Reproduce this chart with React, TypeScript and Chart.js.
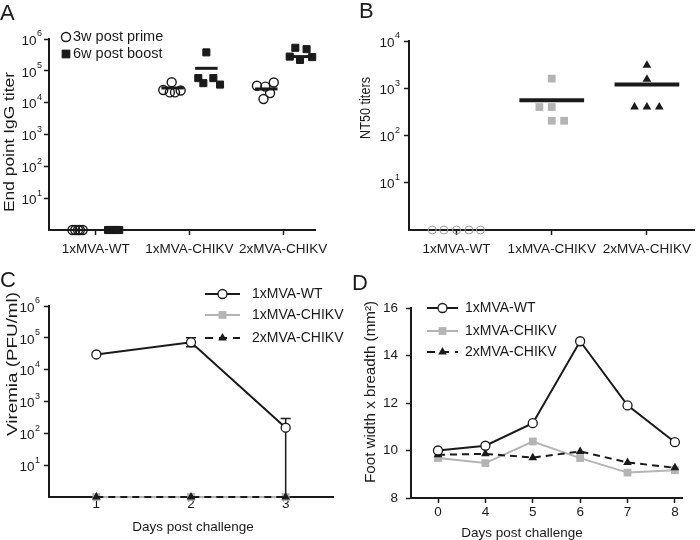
import React, { useEffect, useRef } from 'react';
import { Chart, registerables } from 'chart.js';

Chart.register(...registerables);

const FONT = "'Liberation Sans', Arial, Helvetica, sans-serif";
const INK = '#1a1a1a';
const GREY = '#b4b4b4';
const PALE = '#9a9a9a';

// ---------------- Panel A : End point IgG titer ----------------
const groupsA = ['1xMVA-WT', '1xMVA-CHIKV', '2xMVA-CHIKV'];
const legendA = ['3w post prime', '6w post boost'];
const yTicksA = [1e1, 1e2, 1e3, 1e4, 1e5, 1e6];
const primeXA = [0.75, 0.78, 0.81, 0.83, 0.86, 1.72, 1.81, 1.79, 1.845, 1.906, 2.72, 2.81, 2.9, 2.86, 2.79];
const primeYA = [1, 1, 1, 1, 1, 2.5e4, 4.4e4, 2.1e4, 2.1e4, 2.4e4, 3.4e4, 3.2e4, 4.3e4, 2.0e4, 1.3e4];
const boostXA = [1.13, 1.16, 1.19, 1.22, 1.25, 2.094, 2.148, 2.18, 2.255, 2.326, 3.07, 3.13, 3.18, 3.25, 3.31];
const boostYA = [1, 1, 1, 1, 1, 5.9e4, 4.1e4, 3.8e5, 5.9e4, 3.7e4, 2.8e5, 5.3e5, 2.2e5, 4.8e5, 2.7e5];
const primeMeanA = [null, 2.9e4, 2.7e4];
const boostMeanA = [null, 1.2e5, 2.8e5];

// ---------------- Panel B : NT50 titers ----------------
const groupsB = ['1xMVA-WT', '1xMVA-CHIKV', '2xMVA-CHIKV'];
const yTicksB = [1e1, 1e2, 1e3, 1e4];
const wtXB = [0.744, 0.866, 1.0, 1.13, 1.25];
const wtYB = [1, 1, 1, 1, 1];
const c1XB = [1.87, 2.0, 2.0, 2.0, 2.13];
const c1YB = [400, 1600, 400, 205, 205];
const c2XB = [2.87, 3.0, 3.0, 3.0, 3.13];
const c2YB = [400, 3060, 1550, 400, 400];
const meanB = [null, 560, 1200];

// ---------------- Panel C : Viremia ----------------
const seriesNames = ['1xMVA-WT', '1xMVA-CHIKV', '2xMVA-CHIKV'];
const daysC = [1, 2, 3];
const yTicksC = [1e1, 1e2, 1e3, 1e4, 1e5, 1e6];
const wtC = [3.0e4, 7.2e4, 150];
const wtLoC = [null, 5.2e4, 1];
const wtHiC = [null, 1.0e5, 290];
const c1C = [1, 1, 1];
const c2C = [1, 1, 1];

// ---------------- Panel D : Foot swelling ----------------
const daysD = ['0', '4', '5', '6', '7', '8'];
const wtD = [10.0, 10.2, 11.15, 14.6, 11.9, 10.35];
const c1D = [9.68, 9.47, 10.38, 9.68, 9.07, 9.17];
const c2D = [9.82, 9.86, 9.7, 9.96, 9.5, 9.27];

// ---------------- helpers ----------------
const tickGrid = {
  display: true,
  drawOnChartArea: false,
  drawTicks: true,
  tickLength: 5,
  tickColor: INK,
  tickWidth: 1.5,
  color: INK,
};
const axisBorder = { display: true, color: INK, width: 2 };
const TICK_FONT = { family: FONT, size: 13.5 };

function xAxis(min: number, max: number, values: number[], labels: string[], height: number, pad: number, ticksOn = true) {
  return {
    type: 'linear',
    min,
    max,
    afterBuildTicks: (s: any) => {
      s.ticks = values.map((v) => ({ value: v }));
    },
    afterFit: (s: any) => {
      s.height = height;
    },
    ticks: {
      autoSkip: false,
      maxRotation: 0,
      padding: pad,
      color: INK,
      font: TICK_FONT,
      callback: (_v: any, i: number) => labels[i],
    },
    grid: { ...tickGrid, drawTicks: ticksOn },
    border: axisBorder,
  };
}

function logAxis(max: number, ticks: number[], width: number) {
  return {
    type: 'logarithmic',
    min: 1,
    max,
    afterBuildTicks: (s: any) => {
      s.ticks = ticks.map((v) => ({ value: v }));
    },
    afterFit: (s: any) => {
      s.width = width;
    },
    ticks: { autoSkip: false, callback: () => '' },
    grid: tickGrid,
    border: axisBorder,
  };
}

const common: any = {
  responsive: false,
  animation: false,
  devicePixelRatio: 1,
  events: [],
  plugins: { legend: { display: false }, tooltip: { enabled: false } },
};

function txt(ctx: CanvasRenderingContext2D, s: string, x: number, y: number, size: number, align: CanvasTextAlign = 'left', baseline: CanvasTextBaseline = 'middle') {
  ctx.save();
  ctx.fillStyle = INK;
  ctx.font = `${size}px ${FONT}`;
  ctx.textAlign = align;
  ctx.textBaseline = baseline;
  ctx.fillText(s, x, y);
  ctx.restore();
}

// vertical title fitted to a given length along the axis
function vtxt(ctx: CanvasRenderingContext2D, s: string, x: number, y: number, size: number, length: number) {
  ctx.save();
  ctx.translate(x, y);
  ctx.rotate(-Math.PI / 2);
  ctx.font = `${size}px ${FONT}`;
  const w = ctx.measureText(s).width;
  ctx.scale(length / w, 1);
  ctx.fillStyle = INK;
  ctx.textAlign = 'center';
  ctx.textBaseline = 'middle';
  ctx.fillText(s, 0, 0);
  ctx.restore();
}

function powLabels(ctx: CanvasRenderingContext2D, scale: any, ticks: number[], gap: number) {
  const x0 = scale.right - gap;
  ctx.save();
  ctx.fillStyle = INK;
  ctx.textBaseline = 'middle';
  for (const v of ticks) {
    const y = scale.getPixelForValue(v);
    const e = String(Math.round(Math.log10(v)));
    ctx.font = `9px ${FONT}`;
    const ew = ctx.measureText(e).width;
    ctx.textAlign = 'left';
    ctx.fillText(e, x0 - ew, y - 5);
    ctx.font = `13.5px ${FONT}`;
    ctx.textAlign = 'right';
    ctx.fillText('10', x0 - ew - 0.5, y + 2);
  }
  ctx.restore();
}

function marker(ctx: CanvasRenderingContext2D, style: string, x: number, y: number, r: number, fill: string, stroke: string, lw: number) {
  ctx.save();
  ctx.beginPath();
  if (style === 'circle') {
    ctx.arc(x, y, r, 0, Math.PI * 2);
  } else if (style === 'rect') {
    const h = r * Math.SQRT1_2;
    ctx.rect(x - h, y - h, 2 * h, 2 * h);
  } else {
    ctx.moveTo(x, y - r);
    ctx.lineTo(x + r * 0.866, y + r / 2);
    ctx.lineTo(x - r * 0.866, y + r / 2);
    ctx.closePath();
  }
  ctx.fillStyle = fill;
  ctx.fill();
  if (lw > 0) {
    ctx.lineWidth = lw;
    ctx.strokeStyle = stroke;
    ctx.stroke();
  }
  ctx.restore();
}

const lineSeries = [
  { color: INK, dash: [] as number[], style: 'circle', r: 4.5, fill: '#ffffff', bw: 1.3 },
  { color: GREY, dash: [] as number[], style: 'rect', r: 5.5, fill: GREY, bw: 0 },
  { color: INK, dash: [7, 5], style: 'triangle', r: 5, fill: INK, bw: 0 },
];

function lineDataset(i: number, pts: { x: number; y: number }[]) {
  const s = lineSeries[i];
  return {
    label: seriesNames[i],
    data: pts,
    showLine: true,
    borderColor: s.color,
    borderWidth: 2,
    borderDash: s.dash,
    pointStyle: s.style,
    pointRadius: s.r,
    pointBackgroundColor: s.fill,
    pointBorderColor: s.bw > 0 ? INK : s.fill,
    pointBorderWidth: s.bw,
    clip: false,
  };
}

function drawLineLegend(ctx: CanvasRenderingContext2D, x0: number, x1: number, tx: number, ys: number[]) {
  seriesNames.forEach((name, i) => {
    const s = lineSeries[i];
    const y = ys[i];
    ctx.save();
    ctx.strokeStyle = s.color;
    ctx.lineWidth = 2;
    ctx.setLineDash(s.dash.length ? [8, 6] : []);
    ctx.beginPath();
    ctx.moveTo(x0, y);
    ctx.lineTo(x1, y);
    ctx.stroke();
    ctx.restore();
    marker(ctx, s.style, (x0 + x1) / 2, y, s.r, s.fill, INK, s.bw);
    txt(ctx, name, tx, y, 14);
  });
}

// ---------------- chart factories ----------------
function makeA(): any {
  const datasets: any[] = [
    {
      label: legendA[1],
      data: boostXA.map((x, i) => ({ x, y: boostYA[i] })),
      pointStyle: 'rect',
      pointRadius: 5,
      backgroundColor: INK,
      borderColor: INK,
      borderWidth: 1,
      clip: false,
    },
    {
      label: legendA[0],
      data: primeXA.map((x, i) => ({ x, y: primeYA[i] })),
      pointStyle: 'circle',
      pointRadius: 4.5,
      backgroundColor: 'rgba(255,255,255,0)',
      borderColor: INK,
      borderWidth: 1.4,
      clip: false,
    },
  ];
  groupsA.forEach((_, g) => {
    const pairs: [(number | null)[], number][] = [
      [primeMeanA, -0.18],
      [boostMeanA, 0.18],
    ];
    pairs.forEach(([arr, off]) => {
      const m = arr[g];
      if (m == null) return;
      const c = g + 1 + off;
      datasets.push({
        label: 'mean',
        data: [
          { x: c - 0.12, y: m },
          { x: c + 0.12, y: m },
        ],
        showLine: true,
        borderColor: INK,
        borderWidth: 3,
        pointRadius: 0,
        clip: false,
      });
    });
  });
  return {
    type: 'scatter',
    data: { datasets },
    options: {
      ...common,
      layout: { padding: { left: 0, top: 39, right: 35, bottom: 0 } },
      scales: { x: xAxis(0.5, 3.34, [1, 2, 3], groupsA, 40, 6), y: logAxis(1e6, yTicksA, 49) },
    },
    plugins: [
      {
        id: 'decorA',
        afterDraw(chart: any) {
          const ctx = chart.ctx;
          txt(ctx, 'A', 0, 20, 22, 'left', 'alphabetic');
          vtxt(ctx, 'End point IgG titer', 10, 142, 14, 140);
          powLabels(ctx, chart.scales.y, yTicksA, 7);
          marker(ctx, 'circle', 66, 37, 4.5, 'rgba(0,0,0,0)', INK, 1.4);
          txt(ctx, legendA[0], 73, 37, 14.5);
          marker(ctx, 'rect', 66, 54, 5.5, INK, INK, 1);
          txt(ctx, legendA[1], 73, 54, 14.5);
        },
      },
    ],
  };
}

function makeB(): any {
  const datasets: any[] = [
    {
      label: groupsB[2],
      data: c2XB.map((x, i) => ({ x, y: c2YB[i] })),
      pointStyle: 'triangle',
      pointRadius: 5,
      backgroundColor: INK,
      borderColor: INK,
      borderWidth: 0,
      clip: false,
    },
    {
      label: groupsB[1],
      data: c1XB.map((x, i) => ({ x, y: c1YB[i] })),
      pointStyle: 'rect',
      pointRadius: 5.5,
      backgroundColor: GREY,
      borderColor: GREY,
      borderWidth: 0,
      clip: false,
    },
    {
      label: groupsB[0],
      data: wtXB.map((x, i) => ({ x, y: wtYB[i] })),
      pointStyle: 'circle',
      pointRadius: 4,
      backgroundColor: 'rgba(255,255,255,0)',
      borderColor: PALE,
      borderWidth: 1,
      clip: false,
    },
  ];
  meanB.forEach((m, g) => {
    if (m == null) return;
    const c = g + 1;
    datasets.unshift({
      label: 'mean',
      data: [
        { x: c - 0.34, y: m },
        { x: c + 0.34, y: m },
      ],
      showLine: true,
      borderColor: INK,
      borderWidth: 4,
      pointRadius: 0,
      clip: false,
    });
  });
  return {
    type: 'scatter',
    data: { datasets },
    options: {
      ...common,
      layout: { padding: { left: 0, top: 41, right: 5, bottom: 0 } },
      scales: { x: xAxis(0.5, 3.5, [1, 2, 3], groupsB, 40, 6), y: logAxis(1e4, yTicksB, 59) },
    },
    plugins: [
      {
        id: 'decorB',
        afterDraw(chart: any) {
          const ctx = chart.ctx;
          txt(ctx, 'B', 9, 18, 22, 'left', 'alphabetic');
          vtxt(ctx, 'NT50 titers', 16, 108, 14, 62);
          powLabels(ctx, chart.scales.y, yTicksB, 9);
        },
      },
    ],
  };
}

function makeC(): any {
  const datasets = [
    lineDataset(0, daysC.map((d, i) => ({ x: d, y: wtC[i] }))),
    lineDataset(2, daysC.map((d, i) => ({ x: d, y: c2C[i] }))),
    lineDataset(1, daysC.map((d, i) => ({ x: d, y: c1C[i] }))),
  ];
  return {
    type: 'scatter',
    data: { datasets },
    options: {
      ...common,
      layout: { padding: { left: 0, top: 36, right: 17, bottom: 0 } },
      scales: {
        x: xAxis(0.5, 3.5, daysC, daysC.map(String), 43, -1, false),
        y: logAxis(1e6, yTicksC, 49),
      },
    },
    plugins: [
      {
        id: 'decorC',
        beforeDatasetsDraw(chart: any) {
          const { ctx } = chart;
          const x = chart.scales.x;
          const y = chart.scales.y;
          ctx.save();
          ctx.strokeStyle = INK;
          ctx.lineWidth = 1.5;
          daysC.forEach((d, i) => {
            const lo = wtLoC[i];
            const hi = wtHiC[i];
            if (lo == null || hi == null) return;
            const px = x.getPixelForValue(d);
            const pl = y.getPixelForValue(lo);
            const ph = y.getPixelForValue(hi);
            ctx.beginPath();
            ctx.moveTo(px, pl);
            ctx.lineTo(px, ph);
            ctx.moveTo(px - 5, ph);
            ctx.lineTo(px + 5, ph);
            if (lo > y.min) {
              ctx.moveTo(px - 5, pl);
              ctx.lineTo(px + 5, pl);
            }
            ctx.stroke();
          });
          ctx.restore();
        },
        afterDraw(chart: any) {
          const ctx = chart.ctx;
          txt(ctx, 'C', 0, 16.5, 22, 'left', 'alphabetic');
          vtxt(ctx, 'Viremia (PFU/ml)', 13.5, 94, 14, 144);
          txt(ctx, 'Days post challenge', 193, 257, 13.5, 'center');
          powLabels(ctx, chart.scales.y, yTicksC, 9);
          drawLineLegend(ctx, 205, 240, 252, [24, 45, 68]);
        },
      },
    ],
  };
}

function makeD(): any {
  const idx = daysD.map((_, i) => i);
  const datasets = [
    lineDataset(0, idx.map((i) => ({ x: i, y: wtD[i] }))),
    lineDataset(2, idx.map((i) => ({ x: i, y: c2D[i] }))),
    lineDataset(1, idx.map((i) => ({ x: i, y: c1D[i] }))),
  ];
  return {
    type: 'scatter',
    data: { datasets },
    options: {
      ...common,
      layout: { padding: { left: 0, top: 38, right: 18, bottom: 0 } },
      scales: {
        x: xAxis(-0.57, 5.15, idx, daysD, 42, 1),
        y: {
          type: 'linear',
          min: 8,
          max: 16,
          ticks: { stepSize: 2, padding: 8, color: INK, font: TICK_FONT },
          afterFit: (s: any) => {
            s.width = 61;
          },
          grid: tickGrid,
          border: axisBorder,
        },
      },
    },
    plugins: [
      {
        id: 'decorD',
        afterDraw(chart: any) {
          const ctx = chart.ctx;
          txt(ctx, 'D', 2, 20, 22, 'left', 'alphabetic');
          vtxt(ctx, 'Foot width x breadth (mm²)', 21, 122, 14, 182);
          txt(ctx, 'Days post challenge', 172, 263, 13.5, 'center');
          drawLineLegend(ctx, 77, 108, 115, [38, 61, 82]);
        },
      },
    ],
  };
}

function ChartCanvas({ left, top, make }: { left: number; top: number; make: () => any }) {
  const ref = useRef<HTMLCanvasElement>(null);
  useEffect(() => {
    const chart = new Chart(ref.current as HTMLCanvasElement, make());
    return () => chart.destroy();
  }, []);
  return (
    <canvas
      ref={ref}
      width={350}
      height={270}
      style={{ position: 'absolute', left, top, width: 350, height: 270 }}
    />
  );
}

export default function App() {
  return (
    <div style={{ position: 'fixed', left: 0, top: 0, width: 700, height: 540, background: '#fff' }}>
      <ChartCanvas left={0} top={0} make={makeA} />
      <ChartCanvas left={350} top={0} make={makeB} />
      <ChartCanvas left={0} top={270} make={makeC} />
      <ChartCanvas left={350} top={270} make={makeD} />
    </div>
  );
}
